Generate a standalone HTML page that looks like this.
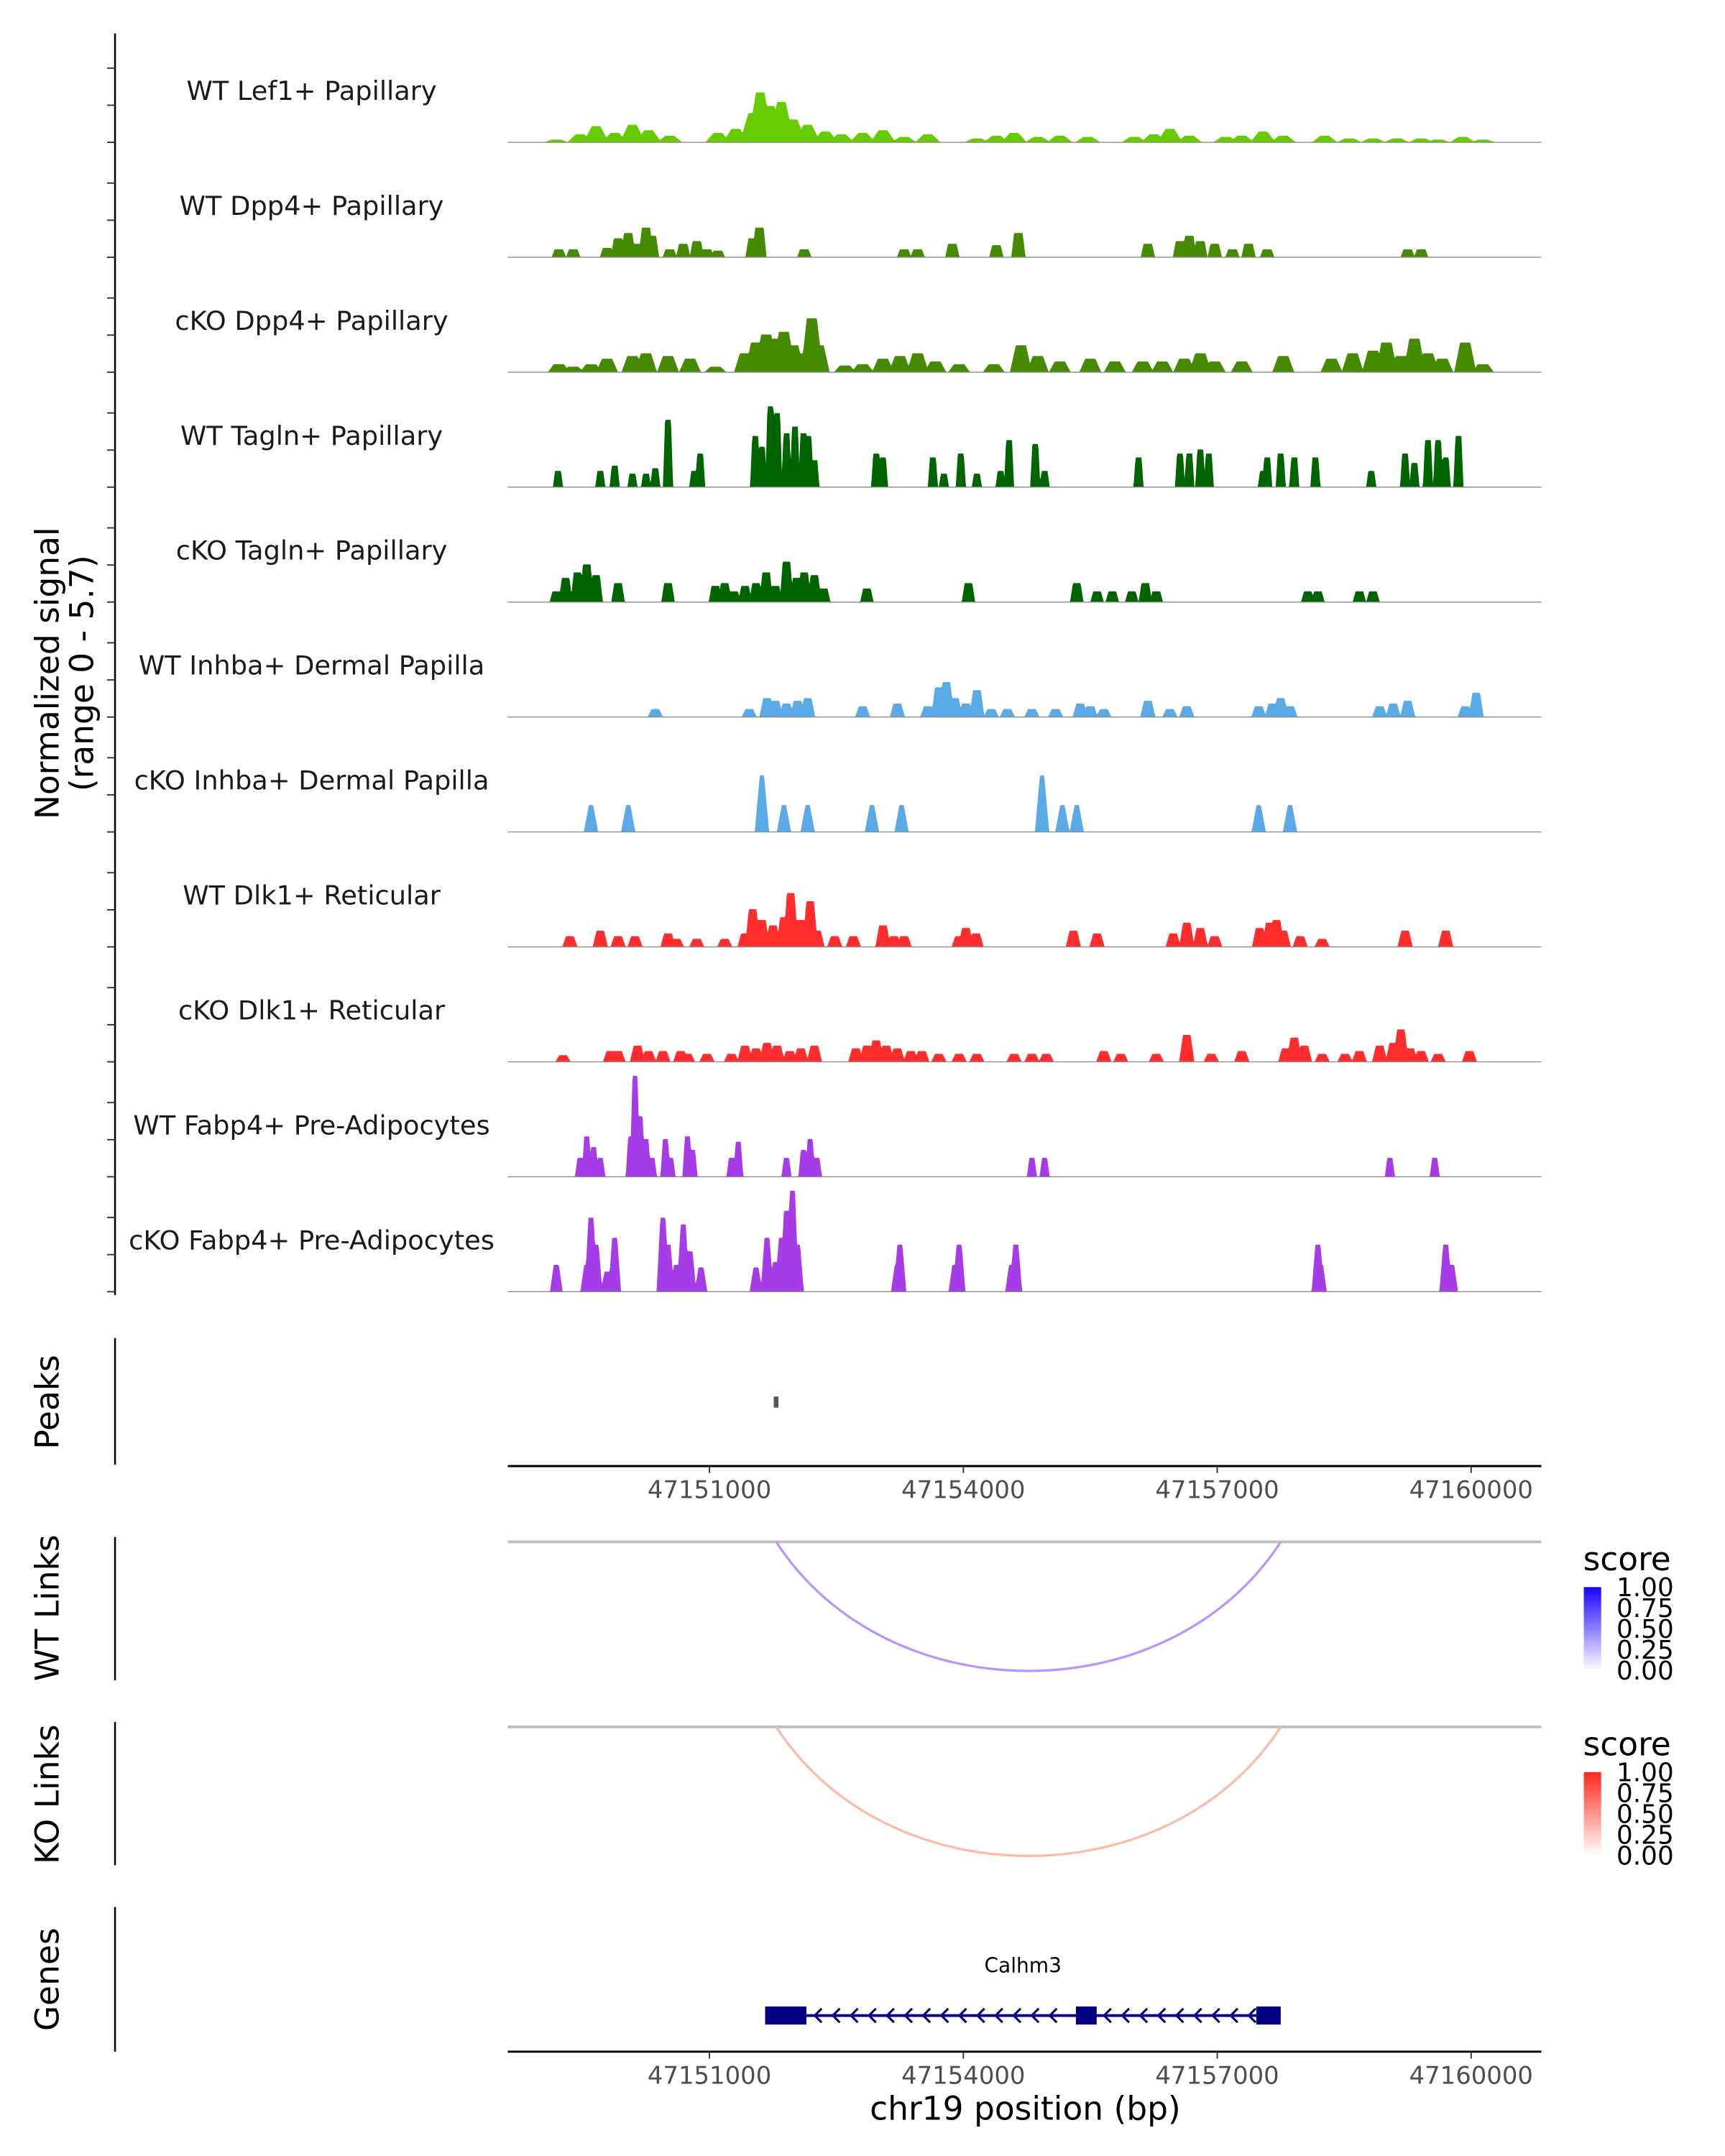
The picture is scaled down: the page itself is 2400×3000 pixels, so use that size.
<!DOCTYPE html>
<html><head><meta charset="utf-8">
<style>
html,body{margin:0;padding:0;background:#fff;}
svg{display:block;font-family:"DejaVu Sans","Liberation Sans",sans-serif;}
</style></head>
<body>
<svg id="fig" xmlns="http://www.w3.org/2000/svg" width="2400" height="3000" viewBox="0 0 1240 1550">
<rect width="1240" height="1550" fill="#fff"/>
<g id="tracks"></g>
<g id="lower"></g>
</svg>
<script>
// ---- data ----
const regionStartBp = 47148620; // peak positions below are kb offsets from this
const xTickValues = [47151000, 47154000, 47157000, 47160000];
const xTickLabels = ["47151000", "47154000", "47157000", "47160000"];
const signalMax = 5.7;
const trackNames = ["WT Lef1+ Papillary","WT Dpp4+ Papillary","cKO Dpp4+ Papillary","WT Tagln+ Papillary","cKO Tagln+ Papillary","WT Inhba+ Dermal Papilla","cKO Inhba+ Dermal Papilla","WT Dlk1+ Reticular","cKO Dlk1+ Reticular","WT Fabp4+ Pre-Adipocytes","cKO Fabp4+ Pre-Adipocytes"];

const lef1Pos = [0.57,0.85,1.04,1.26,1.47,1.66,1.91,2.48,2.69,2.89,2.98,3.10,3.23,3.37,3.54,3.75,3.94,4.19,4.43,4.68,4.96,5.54,5.77,5.98,6.26,6.52,6.85,7.40,7.63,7.82,8.05,8.48,8.67,8.92,9.16,9.65,9.94,10.22,10.50,10.79,10.99,11.28,11.52];
const lef1Val = [0.14,0.41,0.83,0.48,0.9,0.62,0.34,0.48,0.69,1.5,2.55,1.86,2.07,1.17,0.9,0.55,0.41,0.48,0.62,0.28,0.41,0.2,0.34,0.48,0.28,0.34,0.28,0.28,0.41,0.69,0.34,0.28,0.34,0.55,0.34,0.34,0.2,0.2,0.2,0.2,0.14,0.28,0.14];

const wtDpp4Pos = [0.60,0.77,1.17,1.30,1.42,1.53,1.63,1.70,1.91,2.07,2.23,2.35,2.48,2.89,2.97,3.50,4.68,4.84,5.25,5.77,6.03,7.56,7.94,8.05,8.18,8.35,8.56,8.75,8.97,10.63,10.79];
const wtDpp4Val = [0.41,0.41,0.48,0.97,1.24,0.69,1.52,1.1,0.41,0.69,0.83,0.41,0.34,0.97,1.52,0.41,0.41,0.41,0.69,0.62,1.24,0.69,0.83,1.1,0.83,0.69,0.41,0.69,0.41,0.41,0.41];

const koDpp4Pos = [0.60,0.77,0.98,1.17,1.47,1.63,1.89,2.15,2.45,2.80,2.93,3.05,3.16,3.26,3.37,3.49,3.59,3.67,3.98,4.19,4.43,4.63,4.84,5.05,5.33,5.74,6.06,6.26,6.52,6.88,7.17,7.50,7.73,7.99,8.18,8.35,8.67,9.16,9.73,9.98,10.22,10.38,10.55,10.71,10.87,11.04,11.31,11.52];
const koDpp4Val = [0.41,0.28,0.41,0.69,0.83,0.97,0.83,0.69,0.28,0.97,1.52,1.93,1.72,2.07,1.38,0.97,2.76,1.38,0.34,0.41,0.69,0.83,0.97,0.55,0.41,0.41,1.38,0.83,0.55,0.69,0.55,0.55,0.55,0.69,0.97,0.55,0.55,0.83,0.69,0.97,1.1,1.52,0.83,1.72,0.97,0.69,1.52,0.41];

const wtTaglnPos = [0.59,1.09,1.26,1.47,1.63,1.74,1.89,2.20,2.27,2.92,3.00,3.10,3.18,3.29,3.39,3.49,3.55,3.62,4.35,4.43,5.02,5.15,5.35,5.54,5.82,5.92,6.23,6.34,7.45,7.94,8.05,8.18,8.28,8.92,8.97,9.13,9.29,9.54,10.20,10.60,10.71,10.87,10.99,11.08,11.23];
const wtTaglnVal = [0.83,0.83,1.1,0.69,0.69,0.97,3.45,0.83,1.72,2.62,2.07,4.14,3.79,2.76,3.1,2.76,2.62,1.38,1.72,1.52,1.52,0.69,1.72,0.69,0.83,2.41,2.21,0.83,1.52,1.72,1.72,1.93,1.72,0.83,1.52,1.72,1.52,1.52,0.83,1.72,1.24,2.41,2.41,1.52,2.62];

const koTaglnPos = [0.57,0.68,0.82,0.93,1.04,1.30,1.89,2.45,2.56,2.67,2.80,2.93,3.05,3.16,3.29,3.41,3.50,3.62,3.73,4.24,5.44,6.72,6.96,7.14,7.37,7.53,7.66,9.45,9.57,10.06,10.22];
const koTaglnVal = [0.55,1.24,1.52,1.93,1.38,0.97,0.97,0.83,0.97,0.55,0.83,0.97,1.52,0.83,2.07,1.24,1.52,1.38,0.69,0.69,0.97,0.97,0.55,0.55,0.55,0.97,0.55,0.55,0.55,0.55,0.55];

const wtInhbaPos = [1.74,2.85,3.06,3.16,3.29,3.42,3.54,4.19,4.60,4.96,5.09,5.18,5.28,5.41,5.54,5.71,5.90,6.19,6.47,6.76,6.88,7.04,7.56,7.82,8.02,8.87,9.03,9.13,9.24,10.30,10.46,10.63,11.31,11.44];
const wtInhbaVal = [0.41,0.41,0.97,0.83,0.69,0.83,0.97,0.55,0.69,0.55,1.52,1.79,0.97,0.69,1.38,0.41,0.41,0.41,0.41,0.69,0.55,0.41,0.83,0.41,0.55,0.55,0.69,0.97,0.55,0.55,0.69,0.83,0.55,1.24];

const koInhbaPos = [0.98,1.42,3.00,3.26,3.54,4.30,4.65,6.31,6.55,6.72,8.87,9.24];
const koInhbaVal = [1.38,1.38,2.9,1.38,1.38,1.38,1.38,2.9,1.38,1.38,1.38,1.38];

const wtDlk1Pos = [0.73,1.09,1.30,1.50,1.89,1.99,2.23,2.56,2.80,2.89,3.00,3.13,3.26,3.34,3.46,3.57,3.65,3.86,4.08,4.43,4.56,4.68,5.33,5.41,5.53,6.68,6.96,7.86,8.02,8.18,8.35,8.88,9.00,9.08,9.16,9.36,9.62,10.60,11.08];
const wtDlk1Val = [0.55,0.83,0.55,0.55,0.69,0.41,0.41,0.41,0.69,1.93,1.38,1.1,1.52,2.76,1.38,2.34,0.83,0.55,0.55,1.1,0.55,0.55,0.55,0.97,0.69,0.83,0.69,0.69,1.24,0.97,0.55,0.97,1.24,1.38,0.83,0.55,0.41,0.83,0.83];

const koDlk1Pos = [0.65,1.21,1.30,1.53,1.66,1.83,2.04,2.12,2.35,2.64,2.80,2.93,3.06,3.18,3.33,3.46,3.62,4.11,4.24,4.35,4.47,4.60,4.76,4.89,5.09,5.33,5.54,5.98,6.19,6.36,7.04,7.24,7.66,8.02,8.31,8.67,9.19,9.29,9.41,9.62,9.89,10.06,10.30,10.46,10.55,10.66,10.79,10.99,11.36];
const koDlk1Val = [0.34,0.55,0.55,0.83,0.55,0.55,0.55,0.41,0.41,0.41,0.83,0.69,0.97,0.83,0.55,0.69,0.83,0.69,0.83,1.1,0.83,0.69,0.55,0.55,0.41,0.41,0.41,0.41,0.41,0.41,0.55,0.41,0.41,1.38,0.41,0.55,0.69,1.24,0.83,0.41,0.41,0.55,0.83,0.97,1.66,0.69,0.55,0.41,0.55];

const wtFabp4Pos = [0.85,0.93,1.01,1.09,1.45,1.50,1.56,1.63,1.70,1.86,1.92,2.12,2.18,2.64,2.72,3.29,3.49,3.57,3.65,6.19,6.34,10.42,10.95];
const wtFabp4Val = [0.97,2.07,1.52,0.97,2.07,5.17,3.1,1.93,0.97,1.93,0.97,2.07,1.38,0.97,1.79,0.97,1.38,1.93,0.97,0.97,0.97,0.97,0.97];

const koFabp4Pos = [0.57,0.93,0.98,1.04,1.17,1.26,1.83,1.89,1.99,2.07,2.15,2.28,2.93,3.06,3.16,3.23,3.29,3.36,3.42,4.60,4.63,5.28,5.33,5.95,6.00,9.57,9.60,11.08,11.15];
const koFabp4Val = [1.38,1.38,3.79,2.41,1.03,2.76,3.79,2.41,1.38,3.45,2.07,1.24,1.24,2.76,1.52,2.76,4.14,5.17,2.41,1.38,2.41,1.38,2.41,1.38,2.41,2.41,1.38,2.41,1.38];

const peakStarts = [47151760];
const peakEnds = [47151815];
const wtLinkStart = [47151789];
const wtLinkEnd = [47157750];
const wtLinkScore = [0.4];
const koLinkStart = [47151789];
const koLinkEnd = [47157750];
const koLinkScore = [0.3];
const geneName = "Calhm3";
const geneStart = 47151658, geneEnd = 47157750;
const exonStarts = [47151658, 47155330, 47157462];
const exonEnds = [47152145, 47155575, 47157750];
const legendTicks = [1.00, 0.75, 0.50, 0.25, 0.00];

// ---- layout / scales ----
const NS = "http://www.w3.org/2000/svg";
const X0 = 365, X1 = 1108;
const x = bp => 510 + (bp - 47151000) * 182.5 / 3000;
const trackTop = 19.7, trackStep = 82.63, trackH = 80;
const ys = v => v / signalMax * trackH;
function mk(tag, attrs, parent, text){
  const e = document.createElementNS(NS, tag);
  for (const k in attrs) e.setAttribute(k, attrs[k]);
  if (text !== undefined) e.textContent = text;
  parent.appendChild(e);
  return e;
}
const tg = document.getElementById('tracks');
const lg = document.getElementById('lower');

const trackData = [
 [lef1Pos, lef1Val, "#66cc00", 0.05, 0.1],
 [wtDpp4Pos, wtDpp4Val, "#458a00", 0.05, 0.035],
 [koDpp4Pos, koDpp4Val, "#458a00", 0.06, 0.07],
 [wtTaglnPos, wtTaglnVal, "#006400", 0.035, 0.025],
 [koTaglnPos, koTaglnVal, "#006400", 0.045, 0.035],
 [wtInhbaPos, wtInhbaVal, "#5aaae8", 0.045, 0.045],
 [koInhbaPos, koInhbaVal, "#5aaae8", 0.025, 0.06],
 [wtDlk1Pos, wtDlk1Val, "#ff2d2d", 0.045, 0.045],
 [koDlk1Pos, koDlk1Val, "#ff2d2d", 0.045, 0.045],
 [wtFabp4Pos, wtFabp4Val, "#a63be8", 0.03, 0.03],
 [koFabp4Pos, koFabp4Val, "#a63be8", 0.03, 0.045]
];

const ax = mk('line', {x1:82.7,y1:24,x2:82.7,y2:931,stroke:'#000','stroke-width':1.3}, tg);



trackData.forEach((t, i) => {
  const [pos, val, col, hw, ramp] = t;
  const base = trackTop + trackStep * (i + 1);
  [0, 1.9, 3.8].forEach(v => {
    const tk = mk('line', {x1:77,y1:base - ys(v),x2:82.7,y2:base - ys(v),stroke:'#333','stroke-width':1}, tg);
    
    
  });
  let d = `M${X0},${base}`;
  for (let px = X0; px <= X1; px += 0.5) {
    const bp = 47151000 + (px - 510) * 3000 / 182.5;
    const rel = (bp - regionStartBp) / 1000;
    let v = 0;
    for (let k = 0; k < pos.length; k++) {
      const dist = Math.abs(rel - pos[k]);
      const f = dist <= hw ? 1 : Math.max(0, 1 - (dist - hw) / ramp);
      v = Math.max(v, val[k] * f);
    }
    d += `L${px.toFixed(1)},${(base - ys(v)).toFixed(2)}`;
  }
  d += `L${X1},${base}Z`;
  const area = mk('path', {d, fill:col}, tg);
  
  
  const bl = mk('line', {x1:X0,y1:base,x2:X1,y2:base,stroke:'#8a8a8a','stroke-width':0.7}, tg);
  
  
  const lab = mk('text', {x:224,y:base - 30.5,'text-anchor':'middle','font-size':19,fill:'#1a1a1a'}, tg, trackNames[i]);
  
  
});

function vtitle(txt, cx, cy, name){
  const t = mk('text', {x:cx,y:cy,'text-anchor':'middle','font-size':23.5,fill:'#000',transform:`rotate(-90 ${cx} ${cy})`}, lg, txt);
  
  
}
vtitle("Normalized signal", 42, 484, 'y-axis-title');
vtitle("(range 0 - 5.7)", 67, 484, 'y-axis-subtitle');
vtitle("Peaks", 42, 1008, 'peaks-title');
vtitle("WT Links", 42, 1156, 'wt-links-title');
vtitle("KO Links", 42, 1290, 'ko-links-title');
vtitle("Genes", 42, 1423, 'genes-title');

function vaxis(y1, y2, name){
  const l = mk('line', {x1:82.7,y1,x2:82.7,y2,stroke:'#000','stroke-width':1.3}, lg);
  
  
}
vaxis(962, 1053, 'peaks-axis');
vaxis(1105, 1208, 'wt-links-axis');
vaxis(1238, 1341, 'ko-links-axis');
vaxis(1371, 1475, 'genes-axis');

peakStarts.forEach((s, i) => {
  const r = mk('rect', {x:x(s),y:1004,width:Math.max(3, x(peakEnds[i]) - x(s)),height:8,fill:'#555'}, lg);
  
  
});

function xaxis(y, name){
  const l = mk('line', {x1:X0,y1:y,x2:X1,y2:y,stroke:'#000','stroke-width':1.5}, lg);
  
  
  xTickValues.forEach((v, i) => {
    const t = mk('line', {x1:x(v),y1:y,x2:x(v),y2:y + 5,stroke:'#333','stroke-width':1}, lg);
    
    
    const lb = mk('text', {x:x(v),y:y + 23,'text-anchor':'middle','font-size':17.5,fill:'#4d4d4d'}, lg, xTickLabels[i]);
    
    
  });
}
xaxis(1054, 'peaks-x-axis');
xaxis(1475, 'genes-x-axis');
const xt = mk('text', {x:737,y:1524,'text-anchor':'middle','font-size':23.5,fill:'#000'}, lg, "chr19 position (bp)");



function links(starts, ends, scores, top, depth, col, name){
  const bl = mk('line', {x1:X0,y1:top,x2:X1,y2:top,stroke:'#bebebe','stroke-width':2}, lg);
  
  
  starts.forEach((s, i) => {
    const a = x(s), b = x(ends[i]);
    const d = `M${a},${top} C${a + (b - a) * 0.22},${top + depth * 1.33} ${b - (b - a) * 0.22},${top + depth * 1.33} ${b},${top}`;
    const p = mk('path', {d, fill:'none', stroke:col, 'stroke-width':1.7}, lg);
    
    
  });
}
links(wtLinkStart, wtLinkEnd, wtLinkScore, 1108.5, 93, '#b994ff', 'wt-link');
links(koLinkStart, koLinkEnd, koLinkScore, 1241.5, 93, '#ffbaa5', 'ko-link');

function legend(top, c1, name){
  const defs = mk('defs', {}, lg);
  const g = mk('linearGradient', {id:name + '-grad', x1:0, y1:1, x2:0, y2:0}, defs);
  mk('stop', {offset:0,'stop-color':'#ffffff'}, g);
  mk('stop', {offset:1,'stop-color':c1}, g);
  const t = mk('text', {x:1138,y:top - 12,'font-size':23.5,fill:'#000'}, lg, "score");
  
  
  const r = mk('rect', {x:1138.5,y:top,width:12.5,height:60,fill:`url(#${name}-grad)`}, lg);
  
  
  legendTicks.forEach(v => {
    const yy = top + (1 - v) * 60;
    const lb = mk('text', {x:1162,y:yy + 6.5,'font-size':18.5,fill:'#000'}, lg, v.toFixed(2));
    
    
  });
}
legend(1141, '#1a00ff', 'wt-legend');
legend(1274, '#ff2a1a', 'ko-legend');

const gy = 1449;
const gl = mk('line', {x1:x(geneStart),y1:gy,x2:x(geneEnd),y2:gy,stroke:'#000080','stroke-width':2}, lg);


for (let px = x(exonEnds[0]) + 8; px < x(exonStarts[2]) - 3; px += 13) {
  const inEx = px > x(exonStarts[1]) - 4 && px < x(exonEnds[1]) + 6;
  if (inEx) continue;
  const c = mk('path', {d:`M${px + 3},${gy - 5} L${px - 2},${gy} L${px + 3},${gy + 5}`, fill:'none', stroke:'#000080','stroke-width':1.6}, lg);
  
  
}
exonStarts.forEach((s, i) => {
  const r = mk('rect', {x:x(s),y:gy - 6.5,width:x(exonEnds[i]) - x(s),height:13,fill:'#000080'}, lg);
  
  
});
const gn = mk('text', {x:(x(geneStart) + x(geneEnd)) / 2,y:1418,'text-anchor':'middle','font-size':14.5,fill:'#000'}, lg, geneName);


</script>
</body></html>
